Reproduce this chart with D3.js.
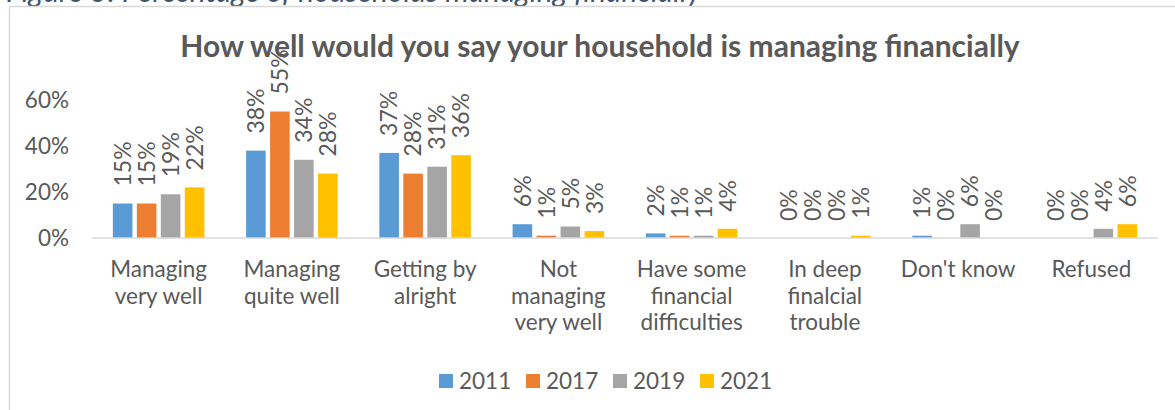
<!DOCTYPE html>
<html>
<head>
<meta charset="utf-8">
<script src="https://cdn.jsdelivr.net/npm/d3@7"></script>
<style>
  html, body { margin: 0; padding: 0; background: #fff; }
  svg { display: block; }
  text { font-family: Lato, "Open Sans", sans-serif; }
</style>
</head>
<body>
<svg id="chart" width="1175" height="410"></svg>
<script>
// Survey answers per category, one array per survey year (percent)
const categories = [
  ["Managing", "very well"],
  ["Managing", "quite well"],
  ["Getting by", "alright"],
  ["Not", "managing", "very well"],
  ["Have some", "financial", "difficulties"],
  ["In deep", "finalcial", "trouble"],
  ["Don't know"],
  ["Refused"]
];
const years = ["2011", "2017", "2019", "2021"];
const values2011 = [15, 38, 37, 6, 2, 0, 1, 0];
const values2017 = [15, 55, 28, 1, 1, 0, 0, 0];
const values2019 = [19, 34, 31, 5, 1, 0, 6, 4];
const values2021 = [22, 28, 36, 3, 4, 1, 0, 6];
const yTicks = [0, 0.2, 0.4, 0.6];
const chartTitle = "How well would you say your household is managing financially";
const captionText = "Figure 3: Percentage of households managing financially";

const seriesValues = [values2011, values2017, values2019, values2021];
const colors = ["#5B9BD5", "#ED7D31", "#A5A5A5", "#FFC000"];
const textColor = "#595959";

const svg = d3.select("#chart");

// Document caption above the chart frame (runs off the top edge of the page)
svg.append("text")
  .attr("x", 6).attr("y", 2)
  .attr("fill", "#44546A")
  .attr("font-style", "italic")
  .attr("font-size", 30)
  .text(captionText);

// Chart frame
svg.append("rect")
  .attr("x", 9.5).attr("y", 6.5)
  .attr("width", 1200).attr("height", 450)
  .attr("fill", "#fff")
  .attr("stroke", "#D9D9D9")
  .attr("stroke-width", 1.5);

// Scales
const x0 = d3.scaleBand()
  .domain(d3.range(categories.length))
  .range([92, 1158])
  .paddingInner(0.28)
  .paddingOuter(0.14);
const x1 = d3.scaleBand()
  .domain(years)
  .range([0, x0.bandwidth()]);
const y = d3.scaleLinear().domain([0, 0.6]).range([238, 100]);

// Title
svg.append("text")
  .attr("x", 600).attr("y", 57)
  .attr("text-anchor", "middle")
  .attr("font-size", 30)
  .attr("font-weight", "bold")
  .attr("fill", textColor)
  .text(chartTitle);

// Y axis (labels only)
const yAxis = svg.append("g")
  .attr("transform", "translate(69,0)")
  .call(d3.axisLeft(y).tickValues(yTicks).tickFormat(d3.format(".0%")).tickSize(0).tickPadding(0));
yAxis.select(".domain").remove();
yAxis.selectAll("text")
  .attr("font-family", "Lato, sans-serif")
  .attr("font-size", 22.5)
  .attr("fill", textColor);

// Bars and value labels
const rows = categories.map((c, i) => years.map((yr, s) => ({ cat: i, year: yr, s, v: seriesValues[s][i] / 100 })));
const groups = svg.append("g").selectAll("g")
  .data(rows)
  .join("g")
  .attr("transform", (d, i) => `translate(${x0(i)},0)`);

groups.selectAll("rect")
  .data(d => d)
  .join("rect")
  .attr("x", d => x1(d.year) + 2.2)
  .attr("width", x1.bandwidth() - 4.4)
  .attr("y", d => y(d.v))
  .attr("height", d => y(0) - y(d.v))
  .attr("fill", d => colors[d.s]);

groups.selectAll("text")
  .data(d => d)
  .join("text")
  .attr("transform", d => `translate(${x1(d.year) + x1.bandwidth() / 2},${y(d.v) - 17}) rotate(-90)`)
  .attr("dy", "0.36em")
  .attr("font-size", 23)
  .attr("fill", textColor)
  .text(d => d3.format(".0%")(d.v));

// Category axis line
svg.append("line")
  .attr("x1", 92).attr("x2", 1158)
  .attr("y1", y(0)).attr("y2", y(0))
  .attr("stroke", "#D9D9D9")
  .attr("stroke-width", 1.5);

// Category labels
const catLabels = svg.append("g").selectAll("text")
  .data(categories)
  .join("text")
  .attr("x", (d, i) => x0(i) + x0.bandwidth() / 2)
  .attr("y", 277)
  .attr("text-anchor", "middle")
  .attr("font-size", 22.5)
  .attr("fill", textColor);
catLabels.selectAll("tspan")
  .data(d => d)
  .join("tspan")
  .attr("x", function () { return this.parentNode.getAttribute("x"); })
  .attr("dy", (d, i) => i === 0 ? 0 : 26.5)
  .text(d => d);

// Legend
const legend = svg.append("g").selectAll("g")
  .data(years)
  .join("g")
  .attr("transform", (d, i) => `translate(${439 + i * 87},374)`);
legend.append("rect")
  .attr("width", 14).attr("height", 14)
  .attr("fill", (d, i) => colors[i]);
legend.append("text")
  .attr("x", 20).attr("y", 15)
  .attr("font-size", 22.5)
  .attr("fill", textColor)
  .text(d => d);
</script>
</body>
</html>
